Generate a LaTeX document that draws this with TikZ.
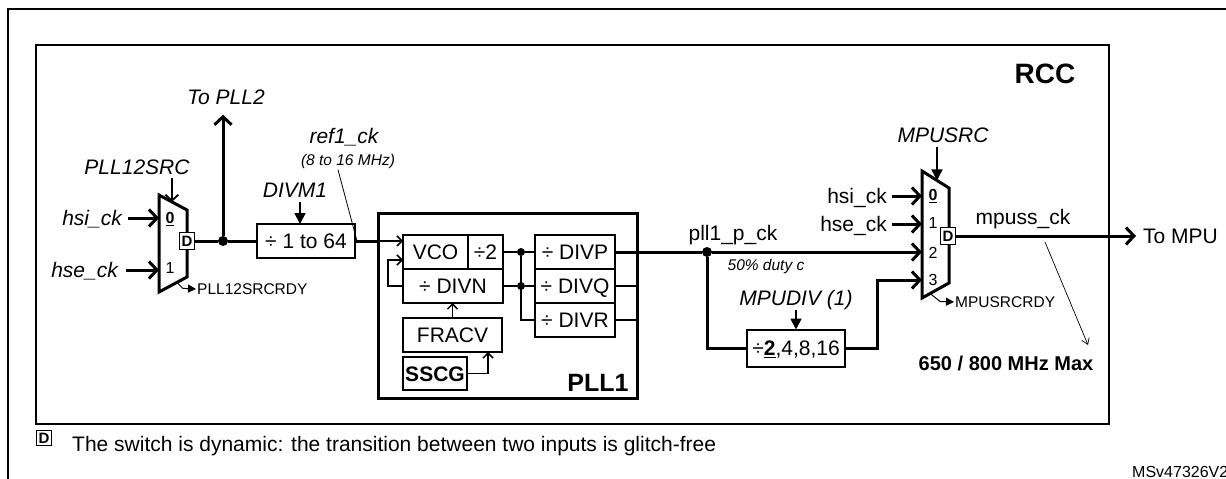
\documentclass[tikz,border=0pt]{standalone}
\usepackage{fontspec}
\setmainfont{Liberation Sans}
\usetikzlibrary{arrows.meta,positioning,calc}
\newcommand\fsz[1]{\fontsize{#1}{#1}\selectfont}
\tikzset{
  lbl/.style={inner sep=0pt,font=\fsz{21},text height=15pt,text depth=0pt},
  ilbl/.style={lbl,font=\fsz{21}\itshape},
  slbl/.style={inner sep=0pt,font=\fsz{15.5},text height=11pt,text depth=0pt},
  islbl/.style={slbl,font=\fsz{15.5}\itshape},
  blk/.style={draw,line width=2pt,inner sep=0pt,outer sep=0pt,font=\fsz{21},text height=15pt,text depth=0pt},
  dsw/.style={draw,line width=1.5pt,fill=white,inner sep=0pt,outer sep=0pt,minimum width=15pt,minimum height=17pt,font=\fsz{15}\bfseries,text height=11pt,text depth=0pt},
  muxl/.style={line width=3pt,line join=miter},
  sig/.style={line width=3pt},
  sigar/.style={sig,-{Straight Barb[length=8pt,width=17pt]}},
  fine/.style={line width=1.5pt},
  finear/.style={fine,-{Straight Barb[length=5pt,width=10pt]}},
  ctl/.style={line width=1.8pt,-{Triangle[length=11pt,width=11pt]}},
  ctlb/.style={line width=1.8pt,-{Straight Barb[length=6pt,width=13pt]}},
  rdy/.style={line width=1pt,-{Triangle[length=8pt,width=8pt]}},
  jdot/.style={circle,fill,inner sep=0pt,minimum size=10pt},
}

\begin{document}
\begin{tikzpicture}[x=1pt,y=-1pt]
  \useasboundingbox (0,0) rectangle (1226,479);
  % frames
  \draw[line width=2.5pt] (8,479) -- (8,9) -- (1226,9);
  \draw[line width=1.6pt] (36,45) rectangle (1109,424);
  \node[lbl,font=\fsz{28}\bfseries,text height=20pt] (rcc) at (1045,73) {RCC};

  % PLL12SRC mux
  \coordinate (m1a) at (159,195); \coordinate (m1b) at (187,210);
  \coordinate (m1c) at (187,277); \coordinate (m1d) at (159,292);
  \draw[muxl] (m1a) -- (m1b) -- (m1c) -- (m1d) -- cycle;
  \node[dsw] (m1D) at (187,241) {D};
  \node[slbl,font=\fsz{16}\bfseries] (m1i0) at (170,218) {\underline{0}};
  \node[slbl,font=\fsz{16}] (m1i1) at (170,268) {1};
  \node[ilbl,anchor=east] (hsil) at (122,218) {hsi\_ck};
  \node[ilbl,anchor=east] (hsel) at (118,270) {hse\_ck};
  \draw[sigar,shorten <=6pt] (hsil.east) -- (hsil.east -| m1a);
  \draw[sigar,shorten <=8pt] (hsel.east) -- (hsel.east -| m1a);
  \node[ilbl] (p12src) at (137,167) {PLL12SRC};
  \coordinate (m1sel) at ($(m1a)!0.46!(m1b)$);
  \draw[ctlb] ([yshift=-3pt]m1sel |- p12src.south) -- (m1sel);
  \coordinate (m1r) at ($(m1d)!0.64!(m1c)$);
  \node[slbl,anchor=west] (p12rdy) at (197,289) {PLL12SRCRDY};
  \draw[rdy,shorten >=1pt] (m1r) -- ++(6pt,-6pt) -- (p12rdy.west);

  % DIVM1 and To PLL2
  \node[jdot] (j1) at (223,241) {};
  \node[blk,minimum width=98pt,minimum height=34pt] (divm) at (306,241) {÷ 1 to 64};
  \draw[sig] (m1D.east) -- (j1) -- (divm.west);
  \node[ilbl] (topll2) at (226,97) {To PLL2};
  \draw[sigar,shorten >=10pt] (j1) -- (j1 |- topll2.south);
  \node[ilbl] (divml) at (295,190) {DIVM1};
  \draw[ctl] ([shift={(-6pt,-4pt)}]divm.north |- divml.south) -- ([xshift=-6pt]divm.north);
  \node[ilbl] (ref1) at (344,136) {ref1\_ck};
  \node[islbl] (ref1f) at (348,160) {(8 to 16 MHz)};
  \coordinate (ref1p) at (357,241);
  \draw[line width=0.8pt] ([shift={(-10pt,-4pt)}]ref1f.south) -- (ref1p);

  % PLL1
  \node[draw,line width=3pt,inner sep=0pt,minimum width=259pt,minimum height=185pt] (pll1) at (507.5,305.5) {};
  \node[lbl,font=\fsz{25}\bfseries,text height=18pt] (pll1l) at (598,382) {PLL1};
  \node[blk,minimum width=65pt,minimum height=34pt] (vco) at (435.5,252) {VCO};
  \node[blk,minimum width=35pt,minimum height=34pt,anchor=west] (div2) at (vco.east) {÷2};
  \node[blk,minimum width=100pt,minimum height=34pt,anchor=north west] (divn) at (vco.south west) {÷ DIVN};
  \node[blk,minimum width=99pt,minimum height=34pt,anchor=north west] (fracv) at ([yshift=-15pt]divn.south west) {FRACV};
  \node[blk,minimum width=64pt,minimum height=33pt,anchor=north west,font=\fsz{21}\bfseries] (sscg) at ([yshift=-5pt]fracv.south west) {SSCG};
  \node[blk,minimum width=80pt,minimum height=34pt] (divp) at (575,252) {÷ DIVP};
  \node[blk,minimum width=80pt,minimum height=34pt,anchor=north] (divq) at (divp.south) {÷ DIVQ};
  \node[blk,minimum width=80pt,minimum height=34pt,anchor=north] (divr) at (divq.south) {÷ DIVR};
  \draw[sig] (divm.east) -- (divm.east -| pll1.west);
  \draw[finear] (divm.east -| pll1.west) -- (divm.east -| vco.west);
  \draw[finear] (divn.west) -- ++(-15pt,0) |- ([yshift=-8pt]vco.west);
  \draw[finear] (fracv.north) -- (fracv.north |- divn.south);
  \draw[finear] (sscg.east) -| ([xshift=-14pt]fracv.south east);
  \node[jdot,minimum size=8pt] (jp) at (521,252) {};
  \node[jdot,minimum size=8pt] (jn) at (521,286) {};
  \draw[fine] (div2.east) -- (jp) -- (divp.west);
  \draw[fine] (divn.east) -- (jn) -- (divq.west);
  \draw[fine] (jp) -- (jp |- divr.west) -- (divr.west);
  \draw[fine] (divq.east) -- (divq.east -| pll1.east);
  \draw[fine] (divr.east) -- (divr.east -| pll1.east);

  % MPUSRC mux
  \coordinate (m2a) at (922,171); \coordinate (m2b) at (949,188);
  \coordinate (m2c) at (949,283); \coordinate (m2d) at (922,298);
  \draw[muxl] (m2a) -- (m2b) -- (m2c) -- (m2d) -- cycle;
  \node[dsw] (m2D) at (948,236) {D};
  \node[slbl,font=\fsz{16}\bfseries] (m2i0) at (933,195) {\underline{0}};
  \node[slbl,font=\fsz{16}] (m2i1) at (933,223) {1};
  \node[slbl,font=\fsz{16}] (m2i2) at (933,253) {2};
  \node[slbl,font=\fsz{16}] (m2i3) at (933,280) {3};
  \node[lbl,anchor=east] (hsir) at (887,196) {hsi\_ck};
  \node[lbl,anchor=east] (hser) at (887,224) {hse\_ck};
  \draw[sigar,shorten <=5pt] (hsir.east) -- (hsir.east -| m2a);
  \draw[sigar,shorten <=5pt] (hser.east) -- (hser.east -| m2a);
  \node[ilbl] (mpusrc) at (943,135) {MPUSRC};
  \coordinate (m2sel) at ($(m2a)!0.555!(m2b)$);
  \draw[ctl] ([yshift=-4pt]m2sel |- mpusrc.south) -- (m2sel);
  \coordinate (m2r) at ($(m2d)!0.3!(m2c)$);
  \node[slbl,anchor=west] (mpurdy) at (955,302) {MPUSRCRDY};
  \draw[rdy,shorten >=1pt] (m2r) -- ++(10pt,-8pt) -- (mpurdy.west);

  % pll1_p_ck and MPUDIV
  \node[jdot] (jpll) at (707,252) {};
  \draw[sig] (divp.east) -- (jpll);
  \coordinate (m2in2) at (922,252);
  \coordinate (m2in3) at (922,280);
  \draw[sigar] (jpll) -- (m2in2);
  \node[lbl] (pllp) at (733,233) {pll1\_p\_ck};
  \node[islbl] (duty) at (766,265) {50\% duty c};
  \node[blk,minimum width=98pt,minimum height=37pt] (mpudiv) at (796,348) {÷\underline{\textbf{2}},4,8,16};
  \draw[sig] (jpll) |- (mpudiv.west);
  \draw[sigar] (mpudiv.east) -- ++(32pt,0) |- (m2in3);
  \node[ilbl] (mpudivl) at (796,298) {MPUDIV (1)};
  \draw[ctl] ([yshift=-4pt]mpudivl.south) -- (mpudiv.north);

  % output
  \node[lbl,anchor=west] (tompu) at (1143,236) {To MPU};
  \draw[sigar,shorten >=7pt] (m2D.east) -- (tompu.west);
  \node[lbl] (mpuss) at (1023,217) {mpuss\_ck};
  \node[lbl,font=\fsz{20}\bfseries] (fmax) at (1006,363) {650 / 800 MHz Max};
  \coordinate (fmaxp) at (1045,242);
  \coordinate (fmaxt) at (1088,345);
  \draw[line width=0.7pt,-{Straight Barb[length=6pt,width=8pt]}] (fmaxp) -- (fmaxt);

  % legend
  \node[dsw,minimum width=15pt,minimum height=15pt] (legD) at (44,438) {D};
  \node[lbl,anchor=west] (legt) at (72,444) {The switch is dynamic: the transition between two inputs is glitch-free};
  \node[slbl,font=\fsz{16},anchor=west] (msv) at (1132,472) {MSv47326V2};
\end{tikzpicture}
\end{document}
